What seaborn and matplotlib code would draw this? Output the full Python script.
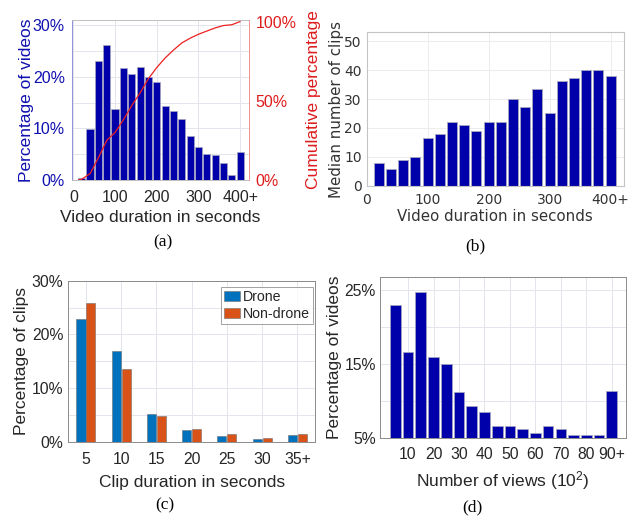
import matplotlib
matplotlib.use("Agg")
import matplotlib.pyplot as plt
import seaborn as sns
import pandas as pd

# ---------------- data ----------------
# (a) video duration histogram + cumulative
dur_bins = [20, 40, 60, 80, 100, 120, 140, 160, 180, 200,
            220, 240, 260, 280, 300, 320, 340, 360, 380, 400]
dur_pct = [0.4, 9.9, 23.0, 26.1, 13.7, 21.7, 20.5, 21.9, 20.0, 19.0,
           14.4, 13.4, 11.9, 8.6, 6.3, 5.0, 4.8, 3.2, 1.0, 5.5]
cum_x = [12, 20, 40, 60, 80, 100, 120, 140, 160, 180, 200,
         220, 240, 260, 280, 300, 320, 340, 360, 380, 400]
cum_pct = [0, 0.5, 4, 14, 25, 30, 38, 47, 55, 64, 71,
           77, 82, 86.5, 89.5, 92, 94, 96, 97.5, 98, 100]
dur_ticks = [0, 100, 200, 300, 400]
dur_ticklabels = ["0", "100", "200", "300", "400+"]

# (b) median number of clips
median_clips = [8.0, 6.0, 9.0, 10.0, 16.6, 18.0, 22.1, 21.1, 19.1, 22.0,
                22.0, 30.1, 27.1, 33.6, 25.1, 36.1, 37.2, 40.1, 40.1, 38.0]

# (c) clip durations
clip_cats = ["5", "10", "15", "20", "25", "30", "35+"]
drone_pct = [22.8, 16.9, 5.1, 2.1, 1.05, 0.5, 1.2]
nondrone_pct = [25.9, 13.5, 4.8, 2.3, 1.35, 0.6, 1.4]
groups = ["Drone", "Non-drone"]

# (d) number of views
view_bins = [5, 10, 15, 20, 25, 30, 35, 40, 45, 50, 55, 60, 65, 70, 75, 80, 85, 90]
view_pct = [23.0, 16.6, 24.8, 16.0, 15.0, 11.2, 9.4, 8.5, 6.7, 6.7,
            6.3, 5.7, 6.6, 6.2, 5.5, 5.45, 5.5, 11.4]
view_ticks = [10, 20, 30, 40, 50, 60, 70, 80, 90]
view_ticklabels = ["10", "20", "30", "40", "50", "60", "70", "80", "90+"]

# ---------------- style ----------------
sns.set_style("white")
plt.rcParams["font.family"] = ["Liberation Sans", "DejaVu Sans"]
plt.rcParams["mathtext.fontset"] = "custom"
plt.rcParams["mathtext.rm"] = "Liberation Sans"
plt.rcParams["mathtext.it"] = "Liberation Sans:italic"

BAR = "#0000AA"
EDGE = "#a8a8c0"
TXT = "#262626"
RED = "#DD1C1C"
BLUE_T = "#1010B0"
GRID = "#e4e4ec"

fig = plt.figure(figsize=(6.37, 5.22), dpi=100)

# ---------------- (a) ----------------
axa = fig.add_axes([0.1126, 0.6552, 0.2788, 0.3065])
sns.barplot(x=dur_bins, y=dur_pct, native_scale=True, width=0.86,
            color=BAR, saturation=1, edgecolor=EDGE, linewidth=0.5, ax=axa, zorder=2)
axa.set_xlim(-4, 422)
axa.set_ylim(0, 31)
axa.set_yticks([0, 5, 10, 15, 20, 25, 30])
axa.set_yticklabels(["0%", "", "10%", "", "20%", "", "30%"], color=BLUE_T, fontsize=11.5)
axa.set_xticks(dur_ticks)
axa.set_xticklabels(dur_ticklabels, color=TXT, fontsize=11.5)
axa.grid(True, color=GRID, lw=0.7, zorder=0)
axa.set_axisbelow(True)
axa.tick_params(axis="x", length=0, pad=7)
axa.tick_params(axis="y", length=0, pad=5)
axa.set_xlabel("Video duration in seconds", fontsize=12.5, color=TXT, labelpad=4)
axa.set_ylabel("Percentage of videos", fontsize=12.5, color=BLUE_T, labelpad=-1)
axa.spines["left"].set_color("#9090d8")
axa.spines["top"].set_color("#c0c0c0")
axa.spines["bottom"].set_color("#c0c0c0")
axa.spines["right"].set_visible(False)
for s in axa.spines.values():
    s.set_linewidth(0.7)

axa2 = axa.twinx()
sns.lineplot(x=cum_x, y=cum_pct, color="#EE2020", lw=0.9, ax=axa2)
axa2.set_ylim(0, 101)
axa2.set_yticks([0, 50, 100])
axa2.set_yticklabels(["0%", "50%", "100%"], color=RED, fontsize=11.5)
axa2.tick_params(length=0, pad=4.5)
axa2.set_ylabel("Cumulative percentage", fontsize=12.5, color=RED, labelpad=7)
for k in ["left", "top", "bottom"]:
    axa2.spines[k].set_visible(False)
axa2.spines["right"].set_color("#f09090")
axa2.spines["right"].set_linewidth(0.7)

# ---------------- (b) ----------------
axb = fig.add_axes([0.5757, 0.6437, 0.4039, 0.2944])
sns.barplot(x=dur_bins, y=median_clips, native_scale=True, width=0.82,
            color=BAR, saturation=1, edgecolor=EDGE, linewidth=0.6, ax=axb)
axb.set_xlim(0, 422)
axb.set_ylim(0, 53)
axb.set_yticks([0, 10, 20, 30, 40, 50])
axb.set_xticks(dur_ticks)
axb.set_xticklabels(dur_ticklabels)
axb.grid(True, color="#ececec", lw=0.7)
axb.set_axisbelow(True)
for lab in axb.get_xticklabels() + axb.get_yticklabels():
    lab.set_family("DejaVu Sans")
    lab.set_fontsize(10)
    lab.set_color("#333333")
axb.tick_params(axis="x", length=2.5, direction="in", color="#bbbbbb", pad=5)
axb.tick_params(axis="y", length=2.5, direction="in", color="#bbbbbb", pad=3.5)
axb.set_xlabel("Video duration in seconds", fontsize=10.8, color="#333333",
               family="DejaVu Sans", labelpad=1.7)
axb.set_ylabel("Median number of clips", fontsize=10.8, color="#333333",
               family="DejaVu Sans", labelpad=0)
for s in axb.spines.values():
    s.set_color("#c4c4c4")
    s.set_linewidth(0.8)

# ---------------- (c) ----------------
axc = fig.add_axes([0.1072, 0.1538, 0.3873, 0.3084])
dfc = pd.DataFrame({
    "cat": clip_cats * 2,
    "pct": drone_pct + nondrone_pct,
    "grp": [groups[0]] * len(clip_cats) + [groups[1]] * len(clip_cats),
})
sns.barplot(data=dfc, x="cat", y="pct", hue="grp", order=clip_cats,
            palette=["#0072BD", "#D95319"], saturation=1, width=0.56, gap=0.08,
            edgecolor="#707070", linewidth=0.4, ax=axc)
axc.set_xlim(-0.5, 6.5)
axc.set_ylim(0, 30)
axc.set_yticks([0, 5, 10, 15, 20, 25, 30])
axc.set_yticklabels(["0%", "", "10%", "", "20%", "", "30%"], fontsize=11.3, color=TXT)
axc.set_xticks(range(len(clip_cats)))
axc.set_xticklabels(clip_cats, fontsize=11.3, color=TXT)
axc.grid(True, color=GRID, lw=0.7)
axc.set_axisbelow(True)
axc.tick_params(axis="x", length=0, pad=7.3)
axc.tick_params(axis="y", length=0, pad=3.5)
axc.set_xlabel("Clip duration in seconds", fontsize=12.5, color=TXT, labelpad=5.6)
axc.set_ylabel("Percentage of clips", fontsize=12.5, color=TXT, labelpad=2)
for s in axc.spines.values():
    s.set_color("#8a8a8a")
    s.set_linewidth(0.7)
leg = axc.legend(loc="upper right", bbox_to_anchor=(0.99, 0.96), fontsize=10.2,
                 frameon=True, fancybox=False,
                 borderpad=0.2, handlelength=1.1, handletextpad=0.2,
                 labelspacing=0.2, borderaxespad=0.0)
leg.get_frame().set_edgecolor("#8a8a8a")
leg.get_frame().set_linewidth(0.7)
for t in leg.get_texts():
    t.set_color(TXT)

# ---------------- (d) ----------------
axd = fig.add_axes([0.5966, 0.1603, 0.3862, 0.3096])
sns.barplot(x=view_bins, y=view_pct, native_scale=True, width=0.84,
            color=BAR, saturation=1, edgecolor=EDGE, linewidth=0.5, ax=axd)
axd.set_xlim(-1, 95.6)
axd.set_ylim(5, 26.8)
axd.set_yticks([5, 10, 15, 20, 25])
axd.set_yticklabels(["5%", "", "15%", "", "25%"], fontsize=11.3, color=TXT)
axd.set_xticks(view_ticks)
axd.set_xticklabels(view_ticklabels, fontsize=11.3, color=TXT)
axd.grid(True, color=GRID, lw=0.7)
axd.set_axisbelow(True)
axd.tick_params(axis="x", length=0, pad=6.6)
axd.tick_params(axis="y", length=0, pad=3)
axd.set_xlabel("Number of views (10$^2$)", fontsize=12.5, color=TXT, labelpad=4.7)
axd.set_ylabel("Percentage of videos", fontsize=12.5, color=TXT, labelpad=2)
for s in axd.spines.values():
    s.set_color("#8a8a8a")
    s.set_linewidth(0.7)

# ---------------- captions ----------------
for (x, y, t) in [(163, 242, "(a)"), (475, 246, "(b)"), (165, 505, "(c)"), (472, 507, "(d)")]:
    fig.text(x / 637, 1 - y / 522, t, ha="center", va="center",
             family="Liberation Serif", fontsize=12.5, color="black")

fig.savefig("out.png", dpi=100)
